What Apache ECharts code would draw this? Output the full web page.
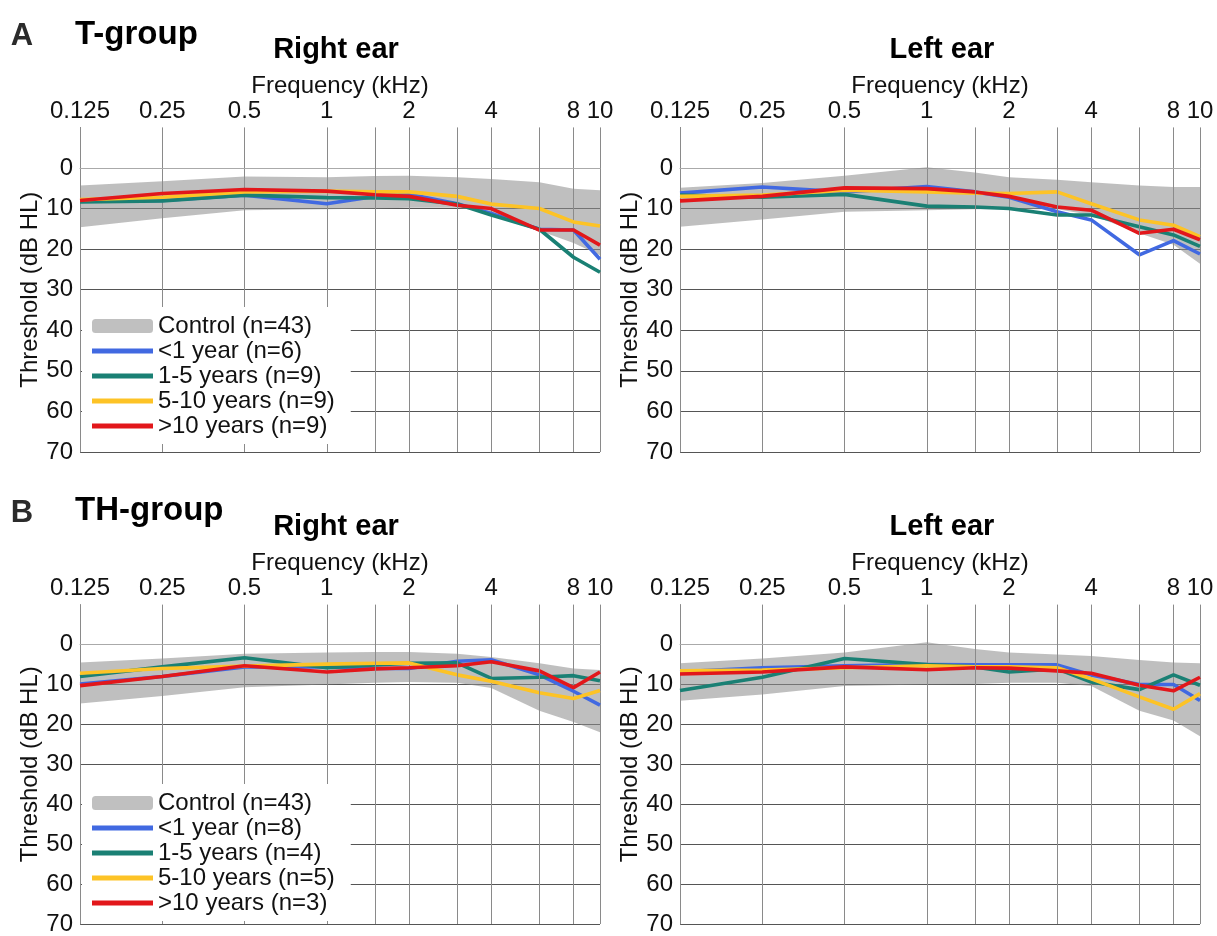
<!DOCTYPE html>
<html><head><meta charset="utf-8">
<script src="https://cdn.jsdelivr.net/npm/echarts@6/dist/echarts.min.js"></script>
<style>html,body{margin:0;padding:0;background:#fff}#c{width:1217px;height:936px}</style>
</head><body><div id="c"></div>
<script>
// ---------- data ----------
const freqs = [0.125, 0.25, 0.5, 1, 1.5, 2, 3, 4, 6, 8, 10];   // kHz
const extraGridFreqs = [1.5, 3, 6];

const namesA = ['<1 year (n=6)', '1-5 years (n=9)', '5-10 years (n=9)', '>10 years (n=9)'];
const namesB = ['<1 year (n=8)', '1-5 years (n=4)', '5-10 years (n=5)', '>10 years (n=3)'];
const controlName = 'Control (n=43)';

// A: T-group, right ear
const aR_ctrlTop = [4.3, 3.3, 2.1, 2.3, 2.0, 1.9, 2.3, 2.7, 3.5, 5.1, 5.5];
const aR_ctrlBot = [14.6, 12.4, 10.4, 10.2, 10.0, 9.8, 9.8, 11.0, 15.5, 18.5, 21.5];
const aR_lt1   = [8.2, 8.0, 6.7, 8.8, 7.0, 6.5, 8.8, 11.2, 15.1, 15.3, 22.5];
const aR_1to5  = [8.4, 8.1, 6.7, 7.3, 7.4, 7.6, 8.9, 11.6, 15.1, 22.0, 25.7];
const aR_5to10 = [7.8, 7.2, 5.9, 5.7, 5.9, 5.9, 7.0, 8.9, 10.0, 13.3, 14.3];
const aR_gt10  = [8.0, 6.3, 5.3, 5.7, 6.6, 7.0, 9.2, 10.0, 15.3, 15.3, 19.0];

// A: T-group, left ear
const aL_ctrlTop = [4.9, 3.7, 1.9, -0.2, 1.1, 2.3, 2.9, 3.5, 4.3, 4.7, 4.7];
const aL_ctrlBot = [14.5, 12.7, 10.8, 10.4, 10.2, 10.2, 10.2, 11.6, 16.1, 18.9, 23.6];
const aL_lt1   = [6.2, 4.7, 5.9, 4.6, 5.9, 7.2, 10.8, 12.8, 21.4, 17.9, 21.2];
const aL_1to5  = [6.7, 7.2, 6.5, 9.4, 9.6, 10.0, 11.6, 11.6, 14.5, 16.5, 19.3];
const aL_5to10 = [7.0, 6.7, 5.5, 5.9, 6.2, 6.3, 5.9, 8.8, 12.8, 14.1, 16.9];
const aL_gt10  = [8.1, 7.0, 4.9, 5.1, 5.9, 7.0, 9.6, 10.4, 16.1, 15.1, 17.7];

// B: TH-group, right ear
const bR_ctrlTop = [4.5, 3.5, 2.3, 2.0, 1.9, 1.9, 2.3, 3.1, 4.7, 6.0, 6.4];
const bR_ctrlBot = [14.8, 12.9, 10.7, 10.0, 9.6, 9.4, 9.6, 10.9, 16.6, 19.4, 22.0];
const bR_lt1   = [9.9, 8.0, 5.6, 5.6, 6.0, 6.0, 4.2, 3.8, 7.6, 11.7, 15.2];
const bR_1to5  = [8.0, 5.6, 3.3, 5.8, 5.1, 4.7, 4.6, 8.5, 8.2, 7.8, 9.1];
const bR_5to10 = [7.2, 6.0, 5.4, 4.9, 4.7, 4.6, 7.6, 9.2, 12.1, 13.5, 11.5];
const bR_gt10  = [10.3, 8.0, 5.3, 6.9, 6.1, 5.8, 5.3, 4.3, 6.6, 10.8, 6.9];

// B: TH-group, left ear
const bL_ctrlTop = [4.7, 3.5, 2.0, -0.6, 1.1, 2.0, 2.5, 2.9, 3.9, 4.5, 4.7];
const bL_ctrlBot = [14.1, 12.5, 10.4, 10.0, 9.9, 9.6, 9.6, 10.4, 16.6, 19.0, 23.0];
const bL_lt1   = [6.8, 5.8, 5.3, 5.0, 5.1, 5.1, 5.1, 7.6, 10.0, 10.0, 14.0];
const bL_1to5  = [11.5, 8.2, 3.5, 5.0, 5.6, 6.9, 6.1, 9.4, 11.3, 7.6, 10.2];
const bL_5to10 = [6.6, 6.4, 5.8, 5.3, 5.6, 5.6, 5.8, 8.6, 13.1, 16.2, 12.3];
const bL_gt10  = [7.4, 6.9, 5.6, 6.3, 5.8, 5.9, 6.6, 7.2, 10.2, 11.6, 8.2];

// ---------- styling ----------
const FONT = "'Liberation Sans', Arial, Helvetica, sans-serif";
const lineColors = ['#4169e1', '#1a8074', '#fdc326', '#e2171b'];
const BAND_FILL = 'rgba(140,140,140,0.56)';

const panels = [
  {left: 80,  top: 127.4, height: 324.6, ctrlTop: aR_ctrlTop, ctrlBot: aR_ctrlBot, lines: [aR_lt1, aR_1to5, aR_5to10, aR_gt10], names: namesA},
  {left: 680, top: 127.4, height: 324.6, ctrlTop: aL_ctrlTop, ctrlBot: aL_ctrlBot, lines: [aL_lt1, aL_1to5, aL_5to10, aL_gt10], names: namesA},
  {left: 80,  top: 604.6, height: 321,   ctrlTop: bR_ctrlTop, ctrlBot: bR_ctrlBot, lines: [bR_lt1, bR_1to5, bR_5to10, bR_gt10], names: namesB},
  {left: 680, top: 604.6, height: 321,   ctrlTop: bL_ctrlTop, ctrlBot: bL_ctrlBot, lines: [bL_lt1, bL_1to5, bL_5to10, bL_gt10], names: namesB}
];

const grids = [], xAxes = [], yAxes = [], series = [];
panels.forEach((p, i) => {
  grids.push({left: p.left, top: p.top, width: 520, height: p.height, containLabel: false});
  xAxes.push({
    type: 'log', logBase: 2, min: 0.125, max: 10, interval: 1, gridIndex: i, position: 'top',
    name: 'Frequency (kHz)', nameLocation: 'middle', nameGap: 28,
    nameTextStyle: {fontSize: 24, color: '#111', fontFamily: FONT},
    axisLine: {show: true, lineStyle: {color: '#aaa', width: 1}},
    axisTick: {show: false},
    axisLabel: {fontSize: 24, color: '#111', fontFamily: FONT, margin: 4,
      formatter: v => String(Math.round(v * 1000) / 1000)},
    splitLine: {show: true, lineStyle: {color: '#8a8a8a', width: 1}}
  });
  yAxes.push({
    type: 'value', inverse: true, min: -10, max: 70, interval: 10, gridIndex: i,
    name: 'Threshold (dB HL)', nameLocation: 'middle', nameGap: 38, nameRotate: 90,
    nameTextStyle: {fontSize: 24, color: '#111', fontFamily: FONT},
    axisLine: {show: true, lineStyle: {color: '#8a8a8a', width: 1}},
    axisTick: {show: false},
    axisLabel: {fontSize: 24, color: '#111', fontFamily: FONT, margin: 7,
      formatter: v => (v < 0 ? '' : String(v))},
    splitLine: {show: true, showMinLine: false, lineStyle: {color: '#555', width: 1}}
  });
  // control band (mean ± range), drawn as one polygon through the axis scales
  const top = p.ctrlTop, bot = p.ctrlBot;
  series.push({
    type: 'custom', name: controlName, xAxisIndex: i, yAxisIndex: i,
    data: freqs.map((f, j) => [f, top[j], bot[j]]),
    encode: {x: 0, y: [1, 2]}, silent: true, z: 1, clip: true,
    itemStyle: {color: '#c0c0c0'},
    renderItem: (params, api) => {
      if (params.dataIndex !== 0) return null;
      const pts = [];
      for (let j = 0; j < freqs.length; j++) pts.push(api.coord([freqs[j], top[j]]));
      for (let j = freqs.length - 1; j >= 0; j--) pts.push(api.coord([freqs[j], bot[j]]));
      return {type: 'polygon', shape: {points: pts}, style: {fill: BAND_FILL, stroke: null}};
    },
    markLine: {
      silent: true, symbol: 'none', label: {show: false}, animation: false,
      lineStyle: {color: '#8a8a8a', type: 'solid', width: 1},
      data: extraGridFreqs.map(f => ({xAxis: f}))
    }
  });
  p.lines.forEach((vals, k) => {
    series.push({
      type: 'line', name: p.names[k], xAxisIndex: i, yAxisIndex: i,
      data: freqs.map((f, j) => [f, vals[j]]),
      symbol: 'none', showSymbol: false, z: 3,
      lineStyle: {color: lineColors[k], width: 3.6},
      itemStyle: {color: lineColors[k]}
    });
  });
});

const LINE_ICON = 'path://M0,0H60V5H0Z';
function legendFor(top, names) {
  return {
    orient: 'vertical', left: 82, top: top, backgroundColor: '#fff',
    padding: [7, 16, 6, 10], itemGap: 1, itemWidth: 61, itemHeight: 14, itemTextGap: 11,
    selectedMode: false, z: 6,
    textStyle: {fontSize: 24, color: '#111', fontFamily: FONT},
    data: [{name: controlName, icon: 'roundRect', itemStyle: {color: '#c0c0c0'}}]
      .concat(names.map((n, k) => ({name: n, icon: LINE_ICON, itemStyle: {color: lineColors[k]}})))
  };
}

function txt(x, y, text, size, bold, align, color) {
  return {type: 'text', x: x, y: y, silent: true, z: 10,
    style: {text: text, fill: color || '#000', align: align || 'left', verticalAlign: 'middle',
      font: (bold ? 'bold ' : '') + size + 'px ' + FONT}};
}

const option = {
  animation: false,
  backgroundColor: '#fff',
  grid: grids, xAxis: xAxes, yAxis: yAxes, series: series,
  legend: [legendFor(307, namesA), legendFor(784, namesB)],
  graphic: [
    txt(22, 36, 'A', 31, true, 'center', '#2b2b2b'),
    txt(75, 35, 'T-group', 33, true, 'left'),
    txt(336, 50, 'Right ear', 29, true, 'center'),
    txt(942, 50, 'Left ear', 29, true, 'center'),
    txt(22, 513, 'B', 31, true, 'center', '#2b2b2b'),
    txt(75, 511, 'TH-group', 33, true, 'left'),
    txt(336, 527, 'Right ear', 29, true, 'center'),
    txt(942, 527, 'Left ear', 29, true, 'center')
  ]
};
const chart = echarts.init(document.getElementById('c'));
chart.setOption(option);
</script>
</body></html>
